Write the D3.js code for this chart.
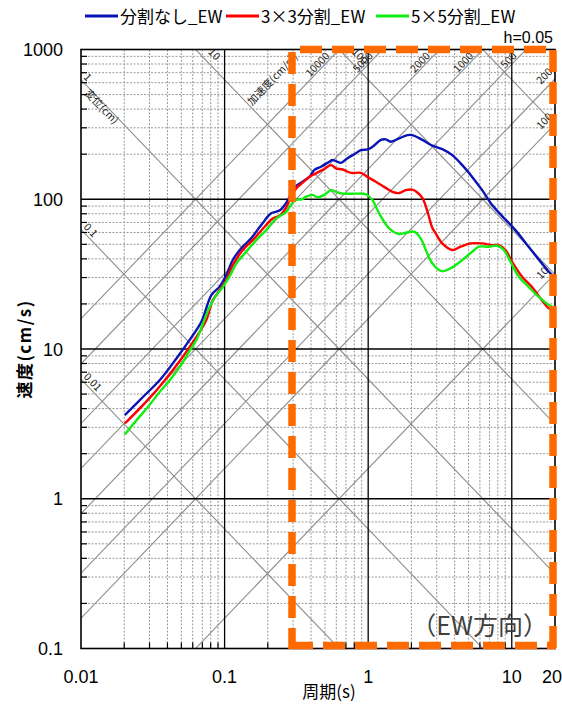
<!DOCTYPE html>
<html><head><meta charset="utf-8">
<script src="https://cdn.jsdelivr.net/npm/d3@7/dist/d3.min.js"></script>
<style>body{margin:0;background:#fff}</style></head>
<body><svg id="c" width="562" height="704"></svg>
<script>
// ---------- data ----------
const periodTicks = [0.01, 0.1, 1, 10, 20];
const periodTickLabels = ["0.01", "0.1", "1", "10", "20"];
const velocityTicks = [0.1, 1, 10, 100, 1000];
const velocityTickLabels = ["0.1", "1", "10", "100", "1000"];
const seriesNames = ["分割なし_EW", "3×3分割_EW", "5×5分割_EW"];
const seriesColors = ["#0a14b4", "#ff0000", "#11ee11"];

const periodA = [0.0202,0.0271,0.0354,0.0462,0.0571,0.0689,0.0809,0.0923,0.1028,0.114,0.1306,0.153,0.180,0.211,0.241,0.268,0.29,0.314,0.345,0.389,0.422,0.470,0.536,0.565,0.646,0.718,0.822,0.890,0.989,1.071,1.225,1.327,1.438,1.642,1.875,2.03,2.385,2.80,3.28,3.85,4.52,5.30,6.22,7.30,8.57,10.6,13.1,16.2,19.05,20];
const velocityA = [3.62,4.80,6.21,8.65,11.5,15.2,22.9,26.1,31.2,39.3,47.0,54.8,67.3,80.5,84,94,108,122,130,141,157,165,178,183,175,188,203,213,215,224,249,251,242,255,268,268,249,228,216,197,169,141,115,91.5,77.2,62.2,48.2,37.3,31.2,30.2];

const periodB = [0.0202,0.0257,0.0336,0.0437,0.0542,0.0670,0.0746,0.0829,0.0923,0.1028,0.114,0.134,0.157,0.190,0.216,0.241,0.268,0.29,0.315,0.350,0.389,0.433,0.482,0.551,0.597,0.664,0.759,0.890,0.989,1.130,1.291,1.475,1.642,1.827,2.03,2.20,2.385,2.58,2.80,2.95,3.28,3.85,4.40,5.17,6.22,7.30,8.13,9.04,10.05,11.8,13.8,16.2,18.07,20];
const velocityB = [3.18,4.01,5.31,7.23,9.58,13.0,15.6,21.2,24.7,28.8,36.3,45.8,53.3,65.5,74.5,77.5,88,103,118,129,141,149,157,169,161,158,150,150,141,131,121,112,110,115,116,111,102,83.4,64.2,59.2,50.7,45.8,48.2,50.7,50.7,49.4,49.4,45.8,38.2,30.4,26.0,21.2,18.7,18.0];

const periodC = [0.0202,0.0244,0.0293,0.0354,0.0415,0.0487,0.0556,0.0636,0.0707,0.0787,0.0876,0.0974,0.108,0.121,0.1415,0.166,0.195,0.229,0.268,0.29,0.314,0.345,0.369,0.410,0.444,0.495,0.551,0.597,0.664,0.822,0.964,1.071,1.191,1.40,1.642,1.827,2.085,2.32,2.52,2.80,3.28,3.85,4.52,5.30,5.90,6.92,7.91,8.80,9.80,11.2,13.1,15.4,19.05,20];
const velocityC = [2.69,3.35,4.11,5.18,6.19,7.60,9.34,11.5,14.8,19.1,22.9,26.0,30.4,37.3,44.6,53.3,62.2,74.5,82,92,99,100,104,107,103,107,115,112,109,109,108,98.8,80.5,63.9,58.6,59.7,60.7,54.8,45.8,37.3,33.1,35.1,39.3,44.6,48.2,48.2,48.9,45.8,38.2,30.4,26.0,22.3,19.1,18.8];

const dispLines = [0.01, 0.1, 1, 10, 100, 1000];
const accLines = [10, 100, 200, 500, 1000, 2000, 5000, 10000];
const dispLabels = ["0.1", "0.01", "1", "10", "100"];
const accLabels = ["10000", "5000", "2000", "1000", "500", "200", "100", "10"];

// ---------- layout ----------
const svg = d3.select("#c");
const L = 81, R = 555, T = 49.5, B = 648.5;
const x = d3.scaleLog().domain([0.01, 20]).range([L, R]);
const y = d3.scaleLog().domain([0.1, 1000]).range([B, T]);
const FONT = "'Liberation Sans', Arial, 'Noto Sans CJK JP', sans-serif";
const JFONT = "'Noto Sans CJK JP', 'Liberation Sans', sans-serif";

svg.append("defs").append("clipPath").attr("id", "plot")
  .append("rect").attr("x", L).attr("y", T).attr("width", R - L).attr("height", B - T);

const g = svg.append("g");

// minor grid
const minorX = [];
[0.01, 0.1, 1, 10].forEach(d => { for (let k = 2; k <= 9; k++) { const v = d * k; if (v < 20) minorX.push(v); } });
const minorY = [];
[0.1, 1, 10, 100].forEach(d => { for (let k = 2; k <= 9; k++) minorY.push(d * k); });

g.selectAll(".mx").data(minorX).enter().append("line")
  .attr("x1", d => x(d)).attr("x2", d => x(d)).attr("y1", T).attr("y2", B)
  .attr("stroke", "#9a9a9a").attr("stroke-width", 1).attr("stroke-dasharray", "2,1.5");
g.selectAll(".my").data(minorY).enter().append("line")
  .attr("y1", d => y(d)).attr("y2", d => y(d)).attr("x1", L).attr("x2", R)
  .attr("stroke", "#9a9a9a").attr("stroke-width", 1).attr("stroke-dasharray", "2,1.5");

// diagonal lines
const dg = g.append("g").attr("clip-path", "url(#plot)");
const line = d3.line().x(d => x(d[0])).y(d => y(d[1]));
const Ts = [0.005, 40];
dispLines.forEach(D => {
  dg.append("path").attr("d", line(Ts.map(t => [t, 2 * Math.PI * D / t])))
    .attr("stroke", "#8c8c8c").attr("stroke-width", 1.1).attr("fill", "none");
});
accLines.forEach(A => {
  dg.append("path").attr("d", line(Ts.map(t => [t, A * t / (2 * Math.PI)])))
    .attr("stroke", "#8c8c8c").attr("stroke-width", 1.1).attr("fill", "none");
});

// major grid
g.selectAll(".Mx").data([0.1, 1, 10]).enter().append("line")
  .attr("x1", d => x(d)).attr("x2", d => x(d)).attr("y1", T).attr("y2", B)
  .attr("stroke", "#000").attr("stroke-width", 1.3);
g.selectAll(".My").data([1, 10, 100]).enter().append("line")
  .attr("y1", d => y(d)).attr("y2", d => y(d)).attr("x1", L).attr("x2", R)
  .attr("stroke", "#000").attr("stroke-width", 1.3);

// line labels
const ang = Math.atan((y(1) - y(10)) / (x(10) - x(1))) * 180 / Math.PI;
const lab = svg.append("g").attr("clip-path", "url(#plot)")
  .style("font-family", JFONT).style("font-size", "10.5px").attr("fill", "#222");
[0.1, 0.01, 1].forEach((D, i) => {
  const py = y(2 * Math.PI * D / 0.01);
  lab.append("text").attr("transform", `translate(${L + 2},${py - 2}) rotate(${ang})`).text(dispLabels[i]);
});
lab.append("text").attr("transform", `translate(${L + 3},${y(2 * Math.PI * 1 / 0.01) + 14}) rotate(${ang})`).text("変位(cm)");
[10, 100].forEach((D, i) => {
  const px = x(2 * Math.PI * D / 1000);
  lab.append("text").attr("transform", `translate(${px + 12},${T + 3}) rotate(${ang})`).text(dispLabels[3 + i]);
});
[10000, 5000, 2000, 1000, 500].forEach((A, i) => {
  const yy = T + 5;
  const Vv = y.invert(yy);
  const px = x(Vv * 2 * Math.PI / A);
  lab.append("text").attr("text-anchor", "end")
    .attr("transform", `translate(${px - 4},${yy + 2}) rotate(${-ang})`).text(accLabels[i]);
});
[200, 100, 10].forEach((A, i) => {
  const py = y(A * 20 / (2 * Math.PI));
  lab.append("text").attr("text-anchor", "start")
    .attr("transform", `translate(${R - 14},${py + 6}) rotate(${-ang})`).text(accLabels[5 + i]);
});
lab.append("text").attr("text-anchor", "end")
  .attr("transform", `translate(${x(y.invert(T + 5) * 2 * Math.PI / 10000) - 36},${T + 8}) rotate(${-ang})`)
  .text("加速度(cm/s²)");

// curves
const cg = svg.append("g").attr("clip-path", "url(#plot)");
const curve = d3.line().x(d => x(d[0])).y(d => y(d[1])).curve(d3.curveCatmullRom.alpha(0.5));
const series = [
  d3.zip(periodA, velocityA),
  d3.zip(periodB, velocityB),
  d3.zip(periodC, velocityC)
];
[0, 1, 2].forEach(i => {
  cg.append("path").attr("d", curve(series[i])).attr("fill", "none")
    .attr("stroke", seriesColors[i]).attr("stroke-width", 2.4).attr("stroke-linejoin", "round");
});

// border
svg.append("rect").attr("x", L).attr("y", T).attr("width", R - L).attr("height", B - T)
  .attr("fill", "none").attr("stroke", "#000").attr("stroke-width", 1.6);

// ticks
svg.selectAll(".tx").data(minorX).enter().append("line")
  .attr("x1", d => x(d)).attr("x2", d => x(d)).attr("y1", B).attr("y2", B - 6)
  .attr("stroke", "#000").attr("stroke-width", 1.2);
svg.selectAll(".ty").data(minorY).enter().append("line")
  .attr("y1", d => y(d)).attr("y2", d => y(d)).attr("x1", L).attr("x2", L + 6)
  .attr("stroke", "#000").attr("stroke-width", 1.2);

// axis tick labels
svg.selectAll(".xl").data(periodTicks).enter().append("text")
  .attr("x", d => d === 20 ? 562 : x(d)).attr("y", 683)
  .attr("text-anchor", d => d === 20 ? "end" : "middle")
  .style("font-family", FONT).style("font-size", "18px").attr("fill", "#000")
  .text((d, i) => periodTickLabels[i]);
svg.selectAll(".yl").data(velocityTicks).enter().append("text")
  .attr("x", 63).attr("y", d => y(d) + 6.5).attr("text-anchor", "end")
  .style("font-family", FONT).style("font-size", "18px").attr("fill", "#000")
  .text((d, i) => velocityTickLabels[i]);

// axis titles
svg.append("text").attr("x", 329).attr("y", 698).attr("text-anchor", "middle")
  .style("font-family", JFONT).style("font-size", "17px").attr("fill", "#000").text("周期(s)");
svg.append("text").attr("transform", "translate(31,349) rotate(-90)").attr("text-anchor", "middle")
  .style("font-family", JFONT).style("font-size", "17px").style("font-weight", "bold")
  .style("letter-spacing", "1.5px").attr("fill", "#000").text("速度(cm/s)");

// legend
const legX = [85, 226, 376];
seriesNames.forEach((n, i) => {
  svg.append("line").attr("x1", legX[i]).attr("x2", legX[i] + 33).attr("y1", 16).attr("y2", 16)
    .attr("stroke", seriesColors[i]).attr("stroke-width", 3);
  svg.append("text").attr("x", legX[i] + 35).attr("y", 23)
    .style("font-family", JFONT).style("font-size", "17px").attr("fill", "#000").text(n);
});
svg.append("text").attr("x", 553).attr("y", 43).attr("text-anchor", "end")
  .style("font-family", FONT).style("font-size", "16px").attr("fill", "#000").text("h=0.05");

// annotation
svg.append("text").attr("x", 548).attr("y", 635).attr("text-anchor", "end")
  .style("font-family", JFONT).style("font-size", "25px").attr("fill", "#404040").text("（EW方向）");

// orange dashed highlight box
const og = svg.append("g").attr("stroke", "#ff6a00").attr("stroke-width", 7.5)
  .attr("stroke-dasharray", "22,10").attr("fill", "none");
og.append("line").attr("x1", 300).attr("x2", 556).attr("y1", 49.5).attr("y2", 49.5);
og.append("line").attr("x1", 292).attr("x2", 292).attr("y1", 52).attr("y2", 649);
og.append("line").attr("x1", 553).attr("x2", 553).attr("y1", 50).attr("y2", 649);
og.append("line").attr("x1", 291).attr("x2", 556).attr("y1", 645.5).attr("y2", 645.5);
</script>
</body></html>
